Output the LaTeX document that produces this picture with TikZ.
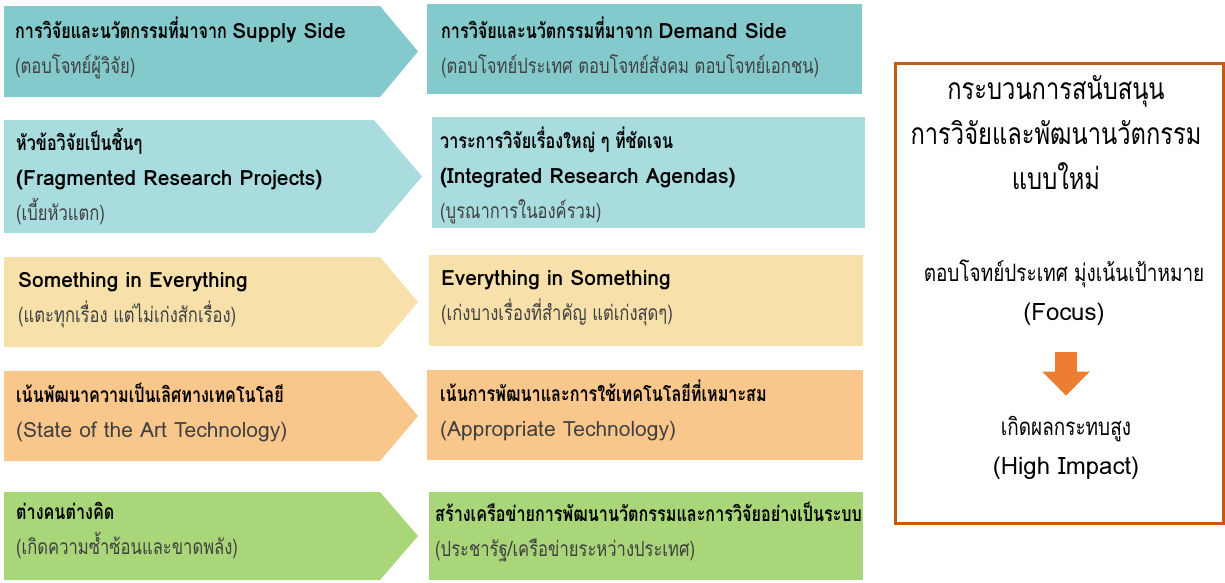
\documentclass[tikz,border=0pt]{standalone}
\usepackage{fontspec}
\setmainfont[Script=Thai,FakeStretch=0.79,BoldFeatures={FakeStretch=0.77}]{Loma}
\newfontfamily\latf{Loma}
\usetikzlibrary{arrows.meta}
\definecolor{tealA}{HTML}{84C9CC}
\definecolor{tealB}{HTML}{A8DCDF}
\definecolor{sand}{HTML}{F8E0AB}
\definecolor{peach}{HTML}{F9C68B}
\definecolor{lime}{HTML}{A8D679}
\definecolor{rust}{HTML}{C55A11}
\definecolor{orangeA}{HTML}{ED7D31}
\definecolor{inkgray}{HTML}{404040}
\newcommand{\hdl}[1]{{\bfseries\color{black}#1}}
\newcommand{\gry}[1]{{\color{inkgray}#1}}
\newcommand{\en}[1]{{\latf #1}}
\tikzset{
  txt/.style={anchor=west, align=left, inner sep=0pt, font=\fontsize{21}{35}\selectfont},
  side/.style={align=center, inner sep=0pt, font=\fontsize{24}{39}\selectfont},
}

\begin{document}
\begin{tikzpicture}[x=1pt,y=-1pt]
   \useasboundingbox (0,0) rectangle (1225,582);
   % left column: old way
   \fill[tealA] (4,6) -- (380,6) -- (418,51.5) -- (380,97) -- (4,97) -- cycle;
   \fill[tealB] (4,120) -- (374,120) -- (422,176.5) -- (374,233) -- (4,233) -- cycle;
   \fill[sand]  (4,257) -- (380,257) -- (418,302) -- (380,347) -- (4,347) -- cycle;
   \fill[peach] (4,371) -- (380,371) -- (418,416) -- (380,461) -- (4,461) -- cycle;
   \fill[lime]  (4,492) -- (380,492) -- (418,536) -- (380,580) -- (4,580) -- cycle;
   % right column: new way
   \fill[tealA] (427,4)   rectangle (862,94);
   \fill[tealB] (432,117) rectangle (865,228);
   \fill[sand]  (429,255) rectangle (863,346);
   \fill[peach] (427,370) rectangle (863,460);
   \fill[lime]  (429,492) rectangle (863,580);
   % texts
   \node[txt] (supply) at (15,48)   {\hdl{การวิจัยและนวัตกรรมที่มาจาก \en{Supply Side}}\\\gry{(ตอบโจทย์ผู้วิจัย)}};
   \node[txt] (demand) at (441,47.5) {\hdl{การวิจัยและนวัตกรรมที่มาจาก \en{Demand Side}}\\\gry{(ตอบโจทย์ประเทศ ตอบโจทย์สังคม ตอบโจทย์เอกชน)}};
   \node[txt] (fragm)  at (16,177)  {\hdl{หัวข้อวิจัยเป็นชิ้นๆ}\\\hdl{\en{(Fragmented Research Projects)}}\\\gry{(เบี้ยหัวแตก)}};
   \node[txt] (integ)  at (440,175) {\hdl{วาระการวิจัยเรื่องใหญ่ ๆ ที่ชัดเจน}\\\hdl{\en{(Integrated Research Agendas)}}\\\gry{(บูรณาการในองค์รวม)}};
   \node[txt] (someth) at (18,300)  {\hdl{\en{Something in Everything}}\\\gry{(แตะทุกเรื่อง แต่ไม่เก่งสักเรื่อง)}};
   \node[txt] (everyt) at (441,298) {\hdl{\en{Everything in Something}}\\\gry{(เก่งบางเรื่องที่สำคัญ แต่เก่งสุดๆ)}};
   \node[txt] (sota)   at (16,412)  {\hdl{เน้นพัฒนาความเป็นเลิศทางเทคโนโลยี}\\\gry{\en{(State of the Art Technology)}}};
   \node[txt] (approp) at (440,410) {\hdl{เน้นการพัฒนาและการใช้เทคโนโลยีที่เหมาะสม}\\\gry{\en{(Appropriate Technology)}}};
   \node[txt] (apart)  at (16,531)  {\hdl{ต่างคนต่างคิด}\\\gry{(เกิดความซ้ำซ้อนและขาดพลัง)}};
   \node[txt] (netw)   at (435,532) {\hdl{สร้างเครือข่ายการพัฒนานวัตกรรมและการวิจัยอย่างเป็นระบบ}\\\gry{(ประชารัฐ/เครือข่ายระหว่างประเทศ)}};
   % summary box
   \draw[rust, line width=3pt] (895,63) rectangle (1223,523);
   \node[side, font=\fontsize{30}{45}\selectfont] (title) at (1056,133) {กระบวนการสนับสนุน\\การวิจัยและพัฒนานวัตกรรม\\แบบใหม่};
   \node[side] (focus)  at (1064,292.5) {ตอบโจทย์ประเทศ มุ่งเน้นเป้าหมาย\\\en{(Focus)}};
   \node[side] (impact) at (1066,447.5) {เกิดผลกระทบสูง\\\en{(High Impact)}};
   \draw[orangeA, line width=22pt, -{Triangle[width=46pt,length=24pt]}]
      ([xshift=2pt,yshift=-26pt]focus.south) -- ([yshift=20pt]impact.north);
\end{tikzpicture}
\end{document}
